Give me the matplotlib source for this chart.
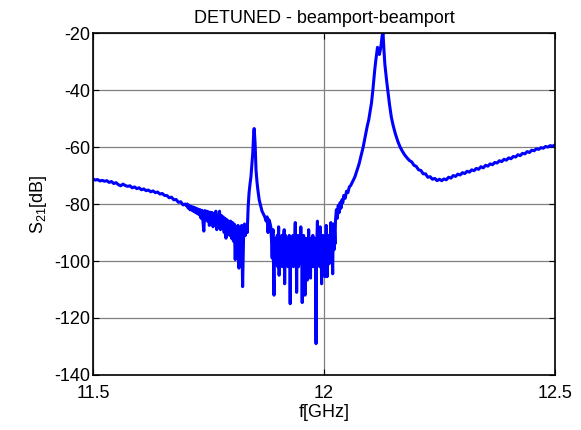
import matplotlib
matplotlib.use("Agg")
import matplotlib.pyplot as plt
import numpy as np

plt.rcParams['font.family'] = ['Liberation Sans', 'DejaVu Sans']
plt.rcParams['axes.unicode_minus'] = False

# --- data (f in GHz, S21 in dB) ---

# 11.500 .. 11.700, step 0.005
f_a = np.linspace(11.500, 11.700, 41)
s_a = [-71.2, -71.6, -71.4, -71.9, -71.7, -72.0, -71.8, -72.4, -72.1, -72.8,
       -72.5, -73.2, -73.6, -73.0, -73.5, -73.8, -73.6, -74.3, -74.0, -74.6,
       -74.3, -75.0, -74.7, -75.3, -75.1, -75.7, -75.4, -76.0, -75.8, -76.5,
       -76.3, -77.0, -77.0, -77.8, -77.6, -78.5, -78.4, -79.4, -79.2, -80.3,
       -80.0]

# 11.702 .. 11.838, step 0.002
f_b = np.linspace(11.702, 11.838, 69)
s_b = [-80.6, -80.0, -81.4, -80.4, -82.0, -80.8, -82.2, -81.0, -82.6, -81.2,
       -83.0, -81.5, -83.4, -81.8, -83.8, -82.0, -85.0, -82.2, -86.0, -89.5,
       -82.3, -85.5, -82.5, -86.0, -82.7, -87.5, -82.9, -86.5, -83.0, -88.0,
       -83.5, -87.5, -82.5, -89.0, -84.0, -88.0, -82.5, -89.0, -84.0, -88.5,
       -84.5, -90.0, -85.0, -92.0, -85.5, -90.5, -86.0, -91.0, -86.0, -92.0,
       -86.5, -93.0, -87.0, -99.5, -88.0, -96.0, -87.5, -102.5, -89.0, -97.0,
       -87.5, -109.0, -92.0, -87.0, -91.0, -87.5, -90.0, -81.0, -76.0]

# first resonance
f_c = [11.840, 11.842, 11.844, 11.846, 11.848, 11.849, 11.850, 11.851, 11.852,
       11.853, 11.855, 11.857, 11.860, 11.863, 11.866, 11.869, 11.872, 11.875,
       11.877, 11.879, 11.881, 11.883, 11.885]
s_c = [-73.0, -70.5, -66.0, -62.0, -55.0, -53.5, -56.0, -58.6, -63.0,
       -68.0, -72.0, -75.0, -78.6, -80.5, -82.5, -83.5, -84.5, -86.0,
       -84.5, -90.0, -85.5, -86.5, -88.0]

# noisy stop band 11.887 .. 12.024, step 0.001
f_d = np.linspace(11.887, 12.024, 138)
s_d = [-94, -99, -91, -89, -103, -112, -93, -100, -92, -101,
       -93, -98, -91, -102, -94, -88, -105, -97, -92, -101,
       -93, -99, -91, -102, -94, -100, -92, -89, -108, -95,
       -91, -101, -93, -99, -92, -102, -94, -100, -91, -98,
       -115, -96, -92, -101, -93, -99, -91, -102, -94, -100,
       -92, -86.5, -101, -94, -111, -93, -99, -91, -102, -93,
       -100, -92, -98, -88, -101, -94, -114.6, -93, -99, -91,
       -102, -95, -112, -92, -100, -93, -98, -106.7, -92, -100,
       -89, -101, -94, -99, -106, -92, -101, -93, -99, -91,
       -102, -94, -100, -92, -98, -103, -129, -97, -92, -86,
       -101, -93, -99, -91, -102, -88, -100, -94, -108, -92,
       -99, -91, -101, -93, -98, -105.5, -92, -100, -87.5, -99,
       -105.5, -93, -100, -91, -101, -93, -98, -92, -86.5, -100,
       -93, -98, -104.5, -91, -87, -96, -90, -94]

# second (main) resonance
f_e = [12.025, 12.027, 12.029, 12.031, 12.033, 12.035, 12.037, 12.039, 12.041,
       12.043, 12.046, 12.049, 12.052, 12.055, 12.058, 12.061, 12.064, 12.067,
       12.070, 12.073, 12.076, 12.079, 12.082, 12.085, 12.088, 12.091, 12.094,
       12.097, 12.100, 12.103, 12.106, 12.108, 12.110, 12.112, 12.114, 12.116,
       12.118, 12.120, 12.122, 12.124, 12.126, 12.128, 12.130, 12.132, 12.134,
       12.136, 12.139, 12.142, 12.146, 12.150, 12.155, 12.160, 12.165, 12.170,
       12.175, 12.180, 12.185, 12.190, 12.195, 12.200, 12.205, 12.210, 12.215,
       12.220, 12.225, 12.230, 12.235, 12.240, 12.245, 12.250]
s_e = [-86.0, -82.0, -85.0, -80.5, -83.0, -79.5, -81.5, -78.5, -79.5,
       -77.0, -78.0, -75.5, -76.0, -74.0, -73.5, -72.5, -71.5, -70.5,
       -69.0, -67.5, -66.0, -64.0, -62.0, -60.0, -57.5, -55.0, -52.5,
       -50.5, -47.5, -44.5, -40.0, -36.5, -33.0, -30.0, -27.5, -25.0,
       -25.5, -27.5, -26.0, -24.0, -21.0, -20.0, -26.0, -31.0, -34.0,
       -37.0, -41.0, -45.0, -49.5, -52.5, -55.5, -58.0, -60.0, -61.5,
       -62.8, -63.8, -64.7, -65.2, -66.4, -66.8, -68.0, -68.2, -69.4,
       -69.4, -70.6, -70.4, -71.3, -71.0, -71.8, -71.3]

# 12.255 .. 12.500, step 0.005
f_f = np.linspace(12.255, 12.500, 50)
s_f = [-71.8, -71.2, -71.5, -70.6, -70.9, -70.0, -70.3, -69.5, -69.8, -69.0,
       -69.3, -68.5, -68.8, -68.0, -68.3, -67.5, -67.8, -66.9, -67.3, -66.4,
       -66.7, -65.9, -66.2, -65.4, -65.6, -64.8, -65.1, -64.3, -64.6, -63.8,
       -64.1, -63.3, -63.5, -62.7, -63.0, -62.2, -62.4, -61.6, -61.9, -61.1,
       -61.3, -60.6, -60.8, -60.2, -60.4, -59.8, -60.0, -59.5, -59.7, -59.3]

freq = np.concatenate([f_a, f_b, f_c, f_d, f_e, f_f])
s21 = np.concatenate([s_a, s_b, s_c, s_d, s_e, s_f])

x_ticks = [11.5, 12, 12.5]
x_tick_labels = ["11.5", "12", "12.5"]
y_ticks = [-140, -120, -100, -80, -60, -40, -20]

# --- plot ---
fig = plt.figure(figsize=(5.81, 4.30), dpi=100)
ax = fig.add_axes([0.160, 0.128, 0.795, 0.795])

ax.plot(freq, s21, color="#0000ff", linewidth=2.2)

ax.set_xlim(11.5, 12.5)
ax.set_ylim(-140, -20)
ax.set_xticks(x_ticks)
ax.set_xticklabels(x_tick_labels)
ax.set_yticks(y_ticks)
ax.grid(True, color="#808080", linewidth=0.9)
ax.tick_params(direction="in", top=True, right=True, labelsize=13, length=4)
ax.tick_params(axis="x", pad=7)
ax.tick_params(axis="y", pad=2)
for sp in ax.spines.values():
    sp.set_linewidth(1.2)

ax.set_title("DETUNED - beamport-beamport", fontsize=13, pad=7)
ax.set_xlabel("f[GHz]", fontsize=13, labelpad=2)
ax.set_ylabel(r"$\mathregular{S_{21}}$[dB]", fontsize=13, labelpad=4)

fig.savefig("out.png", dpi=100)
